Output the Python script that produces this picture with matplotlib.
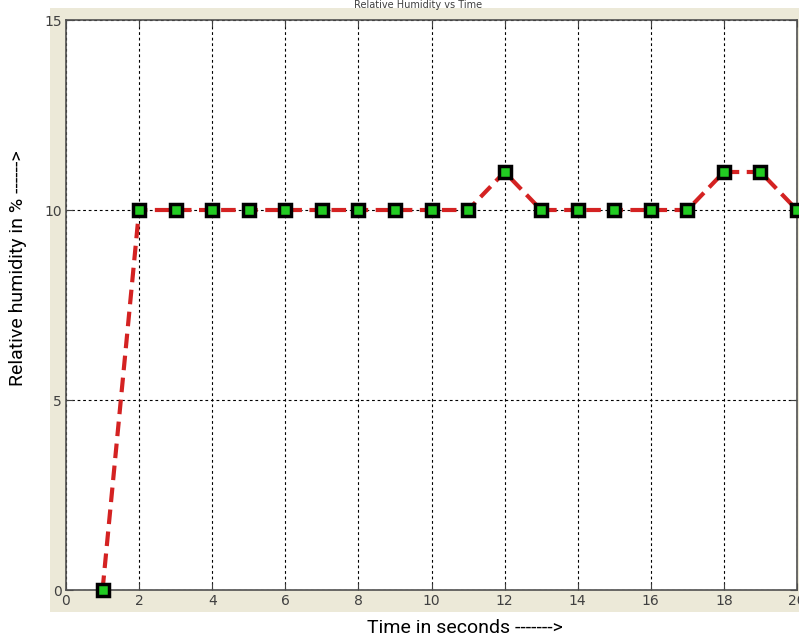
import matplotlib.pyplot as plt
from matplotlib.patches import Rectangle

# time (s) and relative humidity (%)
time_s = [1, 2, 3, 4, 5, 6, 7, 8, 9, 10, 11, 12, 13, 14, 15, 16, 17, 18, 19, 20]
humidity = [0, 10, 10, 10, 10, 10, 10, 10, 10, 10, 10, 11, 10, 10, 10, 10, 10, 11, 11, 10]

x_ticks = [0, 2, 4, 6, 8, 10, 12, 14, 16, 18, 20]
y_ticks = [0, 5, 10, 15]

W, H = 799, 639
fig = plt.figure(figsize=(W / 100, H / 100), dpi=100, facecolor="white")

# grey-beige matlab figure panel, behind the axes
fig.patches.append(Rectangle((50 / W, 1 - 612 / H), (W - 50) / W, (612 - 8) / H,
                             transform=fig.transFigure, facecolor="#ECE9D8",
                             edgecolor="none", zorder=-10))

ax = fig.add_axes([66 / W, 1 - 590 / H, (797 - 66) / W, (590 - 20) / H])
ax.set_zorder(1)
ax.set_facecolor("white")

ax.plot(time_s, humidity, linestyle="--", color="#D42222", linewidth=3,
        dashes=(3.5, 1.8), marker="s", markersize=9, markerfacecolor="#22CC22",
        markeredgecolor="black", markeredgewidth=2.5, zorder=3, clip_on=False)

ax.set_xlim(0, 20)
ax.set_ylim(0, 15)
ax.set_xticks(x_ticks)
ax.set_yticks(y_ticks)
ax.grid(True, linestyle=(0, (2.5, 2.5)), color="black", linewidth=0.8)
ax.tick_params(direction="in", top=True, right=True, length=5, color="#404040",
               labelsize=10, labelcolor="#404040", pad=3)
for s in ax.spines.values():
    s.set_color("#505050")
    s.set_linewidth(1.2)

# title squeezed against the top edge
fig.text(418 / W, 1.0, "Relative Humidity vs Time", ha="center", va="top",
         fontsize=7, color="#404040", zorder=5)

label_font = dict(family=["Roboto", "DejaVu Sans"], fontsize=14,
                  color="black", zorder=5)
fig.text(465 / W, 1 - 628 / H, "Time in seconds ------->", ha="center", va="center",
         bbox=dict(facecolor="white", edgecolor="none", pad=5), **label_font)
fig.text(18 / W, 1 - 268 / H, "Relative humidity in % ------>", ha="center",
         va="center", rotation=90,
         bbox=dict(facecolor="white", edgecolor="none", pad=5), **label_font)

fig.savefig("out.png", dpi=100, facecolor="white")
